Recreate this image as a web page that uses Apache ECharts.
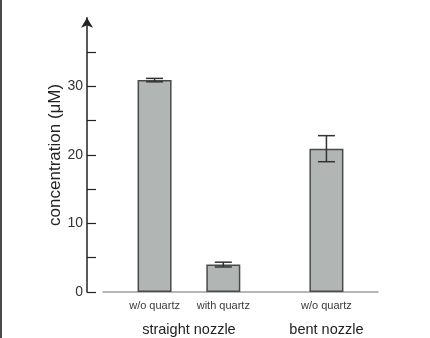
<!DOCTYPE html>
<html>
<head>
<meta charset="utf-8">
<script src="https://cdn.jsdelivr.net/npm/echarts@6/dist/echarts.min.js"></script>
<style>
  html, body { margin: 0; padding: 0; background: #fff; }
  #wrap { position: relative; width: 430px; height: 338px; }
  #chart { width: 430px; height: 338px; }
  #edge { position: absolute; left: 0; top: 0; width: 2px; height: 338px; background: #4a4a4a; }
</style>
</head>
<body>
<div id="wrap"><div id="chart"></div><div id="edge"></div></div>
<script>
// slots on the x axis, blanks keep the gaps between the groups
const categories = ["", "w/o quartz", "", "with quartz", "", "", "w/o quartz", ""];
const groupLabels = ["", "", "straight nozzle", "", "", "", "bent nozzle", ""];
const means = ["-", 30.9, "-", 4.0, "-", "-", 20.9, "-"];
const errors = [0, 0.25, 0, 0.35, 0, 0, 1.9, 0];
const yTicks = [0, 5, 10, 15, 20, 25, 30, 35];
const yLabels = [0, 10, 20, 30];

const errData = [];
means.forEach((m, i) => {
  if (m !== "-") errData.push([i, m - errors[i], m + errors[i]]);
});

const chart = echarts.init(document.getElementById("chart"));
chart.setOption({
  animation: false,
  grid: { left: 103, right: 52, top: 17.7, bottom: 46 },
  xAxis: [
    {
      type: "category",
      data: categories,
      axisLine: { show: true, lineStyle: { color: "#a0a0a0", width: 1.5 } },
      axisTick: { show: false },
      axisLabel: { interval: 0, color: "#3a3a3a", fontSize: 11, fontFamily: "Liberation Sans", margin: 8 },
    },
    {
      type: "category",
      position: "bottom",
      offset: 22,
      data: groupLabels,
      axisLine: { show: false },
      axisTick: { show: false },
      axisLabel: { interval: 0, color: "#222", fontSize: 14.5, fontFamily: "Liberation Sans", margin: 8 },
    },
  ],
  yAxis: {
    type: "value",
    min: 0,
    max: 40,
    interval: 5,
    offset: 16,
    name: "concentration (μM)",
    nameLocation: "middle",
    nameGap: 23,
    nameMoveOverlap: false,
    nameTextStyle: { color: "#222", fontSize: 17, fontFamily: "Liberation Sans" },
    axisLine: {
      show: true,
      symbol: ["none", "arrow"],
      symbolSize: [9, 10],
      lineStyle: { color: "#222", width: 1.5 },
    },
    axisTick: {
      show: true,
      inside: true,
      length: 9,
      customValues: yTicks,
      lineStyle: { color: "#222", width: 1.2 },
    },
    axisLabel: {
      customValues: yLabels,
      color: "#333",
      fontSize: 14,
      fontFamily: "Liberation Sans",
      margin: 4,
    },
    splitLine: { show: false },
  },
  series: [
    {
      type: "bar",
      data: means,
      barWidth: 34,
      itemStyle: { color: "#b1b6b5", borderColor: "#4a4a4a", borderWidth: 1.5 },
    },
    {
      type: "custom",
      data: errData,
      z: 10,
      renderItem: function (params, api) {
        const lo = api.coord([api.value(0), api.value(1)]);
        const hi = api.coord([api.value(0), api.value(2)]);
        const half = 8.5;
        const style = { stroke: "#333", lineWidth: 1.5 };
        return {
          type: "group",
          children: [
            { type: "line", shape: { x1: hi[0], y1: hi[1], x2: lo[0], y2: lo[1] }, style: style },
            { type: "line", shape: { x1: hi[0] - half, y1: hi[1], x2: hi[0] + half, y2: hi[1] }, style: style },
            { type: "line", shape: { x1: lo[0] - half, y1: lo[1], x2: lo[0] + half, y2: lo[1] }, style: style },
          ],
        };
      },
    },
  ],
});
</script>
</body>
</html>
